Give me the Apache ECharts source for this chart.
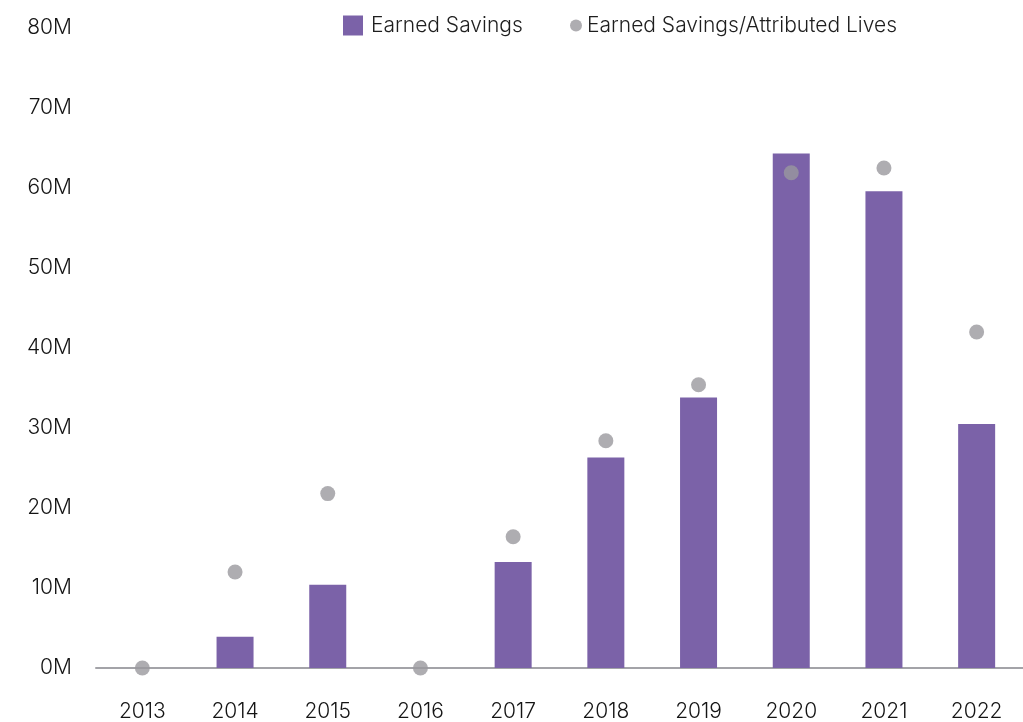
<!DOCTYPE html>
<html>
<head>
<meta charset="utf-8">
<script src="https://cdn.jsdelivr.net/npm/echarts@6/dist/echarts.min.js"></script>
<style>
  html, body { margin: 0; padding: 0; background: #fff; }
  #chart { width: 1023px; height: 722px; }
</style>
</head>
<body>
<div id="chart"></div>
<script>
var years = ['2013', '2014', '2015', '2016', '2017', '2018', '2019', '2020', '2021', '2022']
// values in millions
var earnedSavings = [0, 3.9, 10.4, 0, 13.25, 26.3, 33.8, 64.3, 59.6, 30.5]
var savingsPerLife = [0, 12.0, 21.8, 0, 16.4, 28.4, 35.4, 61.9, 62.5, 42.0]

var font = 'Inter'
var chart = echarts.init(document.getElementById('chart'))
chart.setOption({
  animation: false,
  textStyle: { fontFamily: font, fontWeight: 300 },
  legend: [
    {
      left: 338,
      top: 10,
      itemWidth: 20,
      itemHeight: 20,
      data: [{ name: 'Earned Savings', icon: 'rect' }],
      textStyle: { fontSize: 21, fontWeight: 300, color: '#1e1e1e', padding: [0, 0, 0, 3] }
    },
    {
      left: 565,
      top: 10,
      itemWidth: 12,
      itemHeight: 12,
      data: [{ name: 'Earned Savings/Attributed Lives', icon: 'circle' }],
      textStyle: { fontSize: 21, fontWeight: 300, color: '#1e1e1e', padding: [0, 0, 0, 0] }
    }
  ],
  grid: {
    left: 96,
    right: 0,
    top: 28,
    bottom: 54,
    outerBoundsMode: 'none'
  },
  xAxis: {
    type: 'category',
    data: years,
    axisLine: { lineStyle: { color: '#a3a3a8', width: 2 } },
    axisTick: { show: false },
    axisLabel: { fontSize: 21, fontWeight: 300, color: '#141414', margin: 33 }
  },
  yAxis: {
    type: 'value',
    min: 0,
    max: 80,
    interval: 10,
    splitLine: { show: false },
    axisLine: { show: false },
    axisTick: { show: false },
    axisLabel: {
      fontSize: 21,
      fontWeight: 300,
      color: '#141414',
      margin: 24,
      formatter: function (v) { return v + 'M' }
    }
  },
  series: [
    {
      name: 'Earned Savings',
      type: 'bar',
      data: earnedSavings,
      barWidth: 37,
      itemStyle: { color: '#7b62a8' }
    },
    {
      name: 'Earned Savings/Attributed Lives',
      type: 'scatter',
      data: savingsPerLife,
      symbolSize: 15,
      itemStyle: { color: '#9a999e' }
    }
  ]
})
</script>
</body>
</html>
